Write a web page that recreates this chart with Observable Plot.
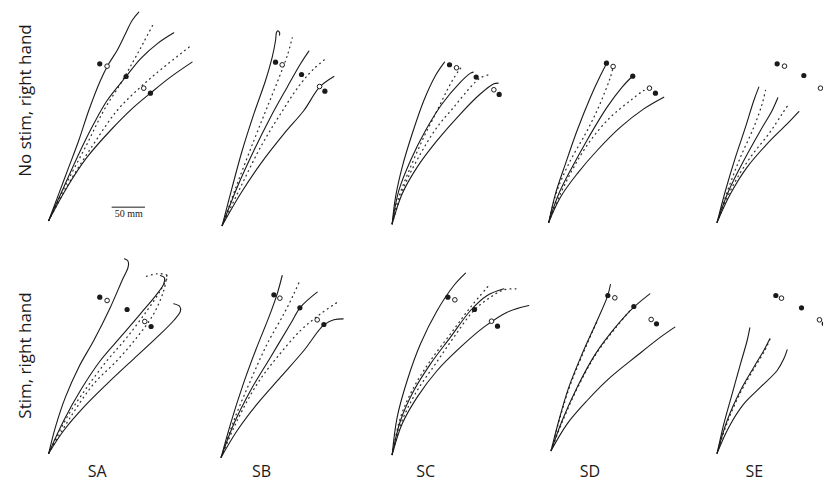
<!DOCTYPE html>
<html>
<head>
<meta charset="utf-8">
<script src="https://cdn.jsdelivr.net/npm/d3@7"></script>
<script src="https://cdn.jsdelivr.net/npm/@observablehq/plot@0.6"></script>
<style>
  html, body { margin: 0; padding: 0; background: #fff; overflow: hidden; }
</style>
</head>
<body>
<div id="chart"></div>
<script>
// ---------- categories ----------
const subjects = ["SA", "SB", "SC", "SD", "SE"];
const conditions = ["No stim, right hand", "Stim, right hand"];

// hand start position of each panel (mm, panel frame)
const startNoStim = [[50.5, 2.5], [64.3, -5], [72.9, -2.4], [61.4, 0], [67.6, 0]];
const startStim   = [[50.5, 0],   [62.8, -6], [72.9, -2],   [65.0, 4], [67.6, 0]];

// scale bar (mm)
const scaleBarLength = 50;
const scaleBarText = "50 mm";

// ---------- trajectories, mm relative to hand start ----------
// No stim, SA
const noStimSA_solid = [
  [[0,0],[15,40],[30,80],[45,120],[60,165],[77.5,210],[90,235],[102.5,255],[115,280],[125,300],[135,312.5]],
  [[0,0],[22.5,50],[47.5,105],[67.5,145],[87.5,180],[116,216],[137.5,242.5],[162.5,265],[187.5,281.5]],
  [[0,0],[27.5,50],[57.5,95],[92.5,135],[127.5,170],[152.5,191],[182.5,215],[215,237.5]]
];
const noStimSA_dotted = [
  [[0,0],[27.5,57.5],[57.5,115],[82.5,165],[107.5,205],[127.5,240],[142.5,267.5],[157.5,296]],
  [[0,0],[32.5,60],[67.5,115],[102.5,165],[137.5,200],[172.5,230],[215,263.5]]
];
const noStimSA_filled = [[76.5,235],[116,216],[152.5,191]];
const noStimSA_open = [[87.5,231.5],[142.5,198.5]];

// No stim, SB
const noStimSB_solid = [
  [[0,0],[15,57.5],[30,112.5],[47.5,167.5],[65,217.5],[75,252.5],[80,277.5],[81.5,290],[83.5,292],[86,289.5],[86,285.5]],
  [[0,0],[22.5,57.5],[47.5,112.5],[72.5,162.5],[97.5,207.5],[117.5,242.5],[130,261.5]],
  [[0,0],[27.5,47.5],[57.5,92.5],[92.5,137.5],[122.5,172.5],[146,207.5],[167.5,223.5]]
];
const noStimSB_dotted = [
  [[0,0],[22.5,62.5],[47.5,127.5],[67.5,177.5],[87.5,227.5],[98.5,257.5],[105,281.5]],
  [[0,0],[27.5,57.5],[57.5,117.5],[87.5,167.5],[117.5,212.5],[137.5,235],[155,250]]
];
const noStimSB_filled = [[80,245],[119,226.5],[154,201.5]];
const noStimSB_open = [[90,241],[146,208.5]];

// No stim, SC
const noStimSC_solid = [
  [[0,0],[5,40],[15,85],[30,135],[47.5,185],[65,222.5],[78.5,242.5]],
  [[0,0],[10,50],[27.5,95],[50,140],[75,180],[100,210],[117.5,226],[121.5,227.5]],
  [[0,0],[15,45],[37.5,85],[67.5,125],[102.5,165],[132.5,195],[152.5,210],[159,211]]
];
const noStimSC_dotted = [
  [[0,0],[10,40],[27.5,85],[47.5,130],[67.5,170],[87.5,210],[100,230],[105,236]],
  [[0,0],[17.5,55],[42.5,105],[67.5,145],[92.5,175],[117.5,205],[132.5,219],[145,223.5]]
];
const noStimSC_filled = [[86,238.5],[126,220],[160.5,194]];
const noStimSC_open = [[96.5,234],[152.5,201]];

// No stim, SD
const noStimSD_solid = [
  [[0,0],[10,42.5],[25,87.5],[42.5,137.5],[62.5,187.5],[77.5,220],[88.5,241.5]],
  [[0,0],[15,42.5],[35,82.5],[60,127.5],[87.5,172.5],[110,202.5],[125,218.5]],
  [[0,0],[17.5,37.5],[42.5,72.5],[72.5,107.5],[107.5,142.5],[142.5,170],[172.5,187.5]]
];
const noStimSD_dotted = [
  [[0,0],[12.5,47.5],[32.5,92.5],[55,132.5],[72.5,167.5],[85,197.5],[92.5,217.5],[96.5,232.5]],
  [[0,0],[17.5,42.5],[37.5,82.5],[62.5,122.5],[92.5,157.5],[122.5,182.5],[142.5,197.5],[151,201]]
];
const noStimSD_filled = [[86.5,238.5],[126,219],[160,193.5]];
const noStimSD_open = [[96.5,233.5],[151,201]];

// No stim, SE
const noStimSE_solid = [
  [[0,0],[12.5,47.5],[27.5,97.5],[42.5,142.5],[55,182.5],[62.5,202.5]],
  [[0,0],[17.5,47.5],[40,92.5],[65,137.5],[82.5,167.5],[91,186.5]],
  [[0,0],[20,42.5],[45,82.5],[75,117.5],[105,147.5],[122.5,166]]
];
const noStimSE_dotted = [
  [[0,0],[17.5,52.5],[35,97.5],[55,142.5],[67.5,177.5],[72.5,197.5]],
  [[0,0],[22.5,52.5],[50,97.5],[77.5,132.5],[97.5,162.5],[107.5,177.5]]
];
const noStimSE_filled = [[90,237.5],[130,220],[164,193.5]];
const noStimSE_open = [[101,234],[155,201]];

// Stim, SA
const stimSA_solid = [
  [[0,0],[10,39],[25,84],[45,129],[67.5,169],[92.5,219],[110,259],[119,279],[119,288],[113.5,291.5]],
  [[0,0],[22.5,49],[47.5,94],[77.5,139],[107.5,174],[137.5,209],[162.5,239],[172.5,254],[173.5,263],[167.5,266.5]],
  [[0,0],[22.5,34],[52.5,69],[87.5,104],[127.5,141.5],[162.5,174],[187.5,199],[197.5,213],[196.5,220],[187.5,224]]
];
const stimSA_dotted = [
  [[0,0],[27.5,54],[57.5,99],[87.5,139],[117.5,174],[147.5,214],[167.5,244],[177.5,266.5],[162.5,269],[142.5,264]],
  [[0,0],[32.5,54],[67.5,104],[102.5,139],[132.5,174],[157.5,209],[172.5,244],[177.5,269]]
];
const stimSA_filled = [[76.5,234],[117.5,215.5],[153.5,190]];
const stimSA_open = [[87.5,229],[144,197.5]];

// Stim, SB
const stimSB_solid = [
  [[0,0],[14,50],[31.5,105],[51.5,160],[71.5,210],[84,245],[91.5,272.5]],
  [[0,0],[19,50],[44,100],[74,150],[104,200],[119,225],[144,247.5]],
  [[0,0],[24,40],[54,80],[89,120],[124,160],[154,198.5],[169,206],[183,207.5]]
];
const stimSB_dotted = [
  [[0,0],[19,55],[44,115],[69,170],[94,215],[109,245],[118,265]],
  [[0,0],[24,55],[54,110],[84,150],[119,190],[149,215],[173,231.5]]
];
const stimSB_filled = [[79,243.5],[118,224],[154,199]];
const stimSB_open = [[88,238.5],[144,206]];

// Stim, SC
const stimSC_solid = [
  [[0,0],[7.5,56],[22.5,111],[42.5,166],[67.5,216],[92.5,253.5],[110,272]],
  [[0,0],[12.5,51],[32.5,96],[57.5,136],[87.5,176],[117.5,216],[142.5,238.5],[167.5,248.5]],
  [[0,0],[15,46],[37.5,86],[67.5,126],[102.5,161],[137.5,191],[172.5,213.5],[205,223.5]]
];
const stimSC_dotted = [
  [[0,0],[12.5,56],[32.5,101],[57.5,141],[87.5,181],[117.5,221],[145,253.5]],
  [[0,0],[15,51],[37.5,96],[65,136],[92.5,176],[122.5,216],[147.5,236],[167.5,247],[187.5,248.5]]
];
const stimSC_filled = [[83.5,236],[123.5,217.5],[158,192.5]];
const stimSC_open = [[94,232],[149,200]];

// Stim, SD
const stimSD_solid = [
  [[0,0],[11.5,45],[26.5,95],[46.5,145],[69,195],[84,230],[89,249]],
  [[0,0],[16.5,45],[39,95],[66.5,145],[96.5,185],[124,215],[148,235]],
  [[0,0],[24,40],[54,75],[89,110],[129,142.5],[164,170],[185.5,185]]
];
const stimSD_dotted = [
  [[0,0],[17.5,45],[40,95],[67.5,145],[97.5,185],[120,212]],
  [[0,0],[12,45],[27.5,95],[47.5,145],[69.5,195]]
];
const stimSD_filled = [[85,232.5],[124,216],[158,190]];
const stimSD_open = [[95.5,229],[150,196.5]];

// Stim, SE
const stimSE_solid = [
  [[0,0],[10,44],[22.5,89],[35,134],[45,169],[49,188]],
  [[0,0],[15,49],[35,94],[55,129],[70,154],[79,171.5]],
  [[0,0],[17.5,39],[40,74],[65,99],[90,124],[100,141.5],[105,155]]
];
const stimSE_dotted = [
  [[0,0],[16,48],[36,93],[56,128],[72,155],[80,173]]
];
const stimSE_filled = [[88,236.5],[126.5,218],[160.5,194]];
const stimSE_open = [[96.5,232.5],[153.5,200]];

// ---------- assemble tables ----------
const panels = [
  [conditions[0], "SA", startNoStim[0], noStimSA_solid, noStimSA_dotted, noStimSA_filled, noStimSA_open],
  [conditions[0], "SB", startNoStim[1], noStimSB_solid, noStimSB_dotted, noStimSB_filled, noStimSB_open],
  [conditions[0], "SC", startNoStim[2], noStimSC_solid, noStimSC_dotted, noStimSC_filled, noStimSC_open],
  [conditions[0], "SD", startNoStim[3], noStimSD_solid, noStimSD_dotted, noStimSD_filled, noStimSD_open],
  [conditions[0], "SE", startNoStim[4], noStimSE_solid, noStimSE_dotted, noStimSE_filled, noStimSE_open],
  [conditions[1], "SA", startStim[0], stimSA_solid, stimSA_dotted, stimSA_filled, stimSA_open],
  [conditions[1], "SB", startStim[1], stimSB_solid, stimSB_dotted, stimSB_filled, stimSB_open],
  [conditions[1], "SC", startStim[2], stimSC_solid, stimSC_dotted, stimSC_filled, stimSC_open],
  [conditions[1], "SD", startStim[3], stimSD_solid, stimSD_dotted, stimSD_filled, stimSD_open],
  [conditions[1], "SE", startStim[4], stimSE_solid, stimSE_dotted, stimSE_filled, stimSE_open]
];

const solidRows = [], dottedRows = [], filledRows = [], openRows = [];
for (const [fy, fx, s, solid, dotted, filled, open] of panels) {
  solid.forEach((c, i) => c.forEach(([x, y]) => solidRows.push({fx, fy, id: `${fy}|${fx}|s${i}`, x: s[0] + x, y: s[1] + y})));
  dotted.forEach((c, i) => c.forEach(([x, y]) => dottedRows.push({fx, fy, id: `${fy}|${fx}|d${i}`, x: s[0] + x, y: s[1] + y})));
  filled.forEach(([x, y]) => filledRows.push({fx, fy, x: s[0] + x, y: s[1] + y}));
  open.forEach(([x, y]) => openRows.push({fx, fy, x: s[0] + x, y: s[1] + y}));
}

const scaleBar = [{fx: "SA", fy: conditions[0], x1: 145.6, x2: 145.6 + scaleBarLength, y: 22.5, label: scaleBarText}];
const rowLabels = conditions.map((c) => ({fx: "SA", fy: c, label: c}));

const ink = "#1a1a1a";

const chart = Plot.plot({
  width: 823,
  height: 483,
  marginLeft: 14.6,
  marginRight: -12.85,
  marginTop: 0,
  marginBottom: 21,
  style: {fontFamily: "'Open Sans', sans-serif", background: "#fff", color: ink},
  fx: {domain: subjects, padding: 0, round: false},
  fy: {domain: conditions, padding: 0, round: false, axis: null},
  x: {domain: [0, 246.4], axis: null},
  y: {domain: [-14, 332.5], axis: null},
  marks: [
    Plot.axisFx({anchor: "bottom", tickSize: 0, tickPadding: 3, fontSize: 16, label: null, fill: ink}),
    Plot.line(dottedRows, {x: "x", y: "y", z: "id", fx: "fx", fy: "fy", stroke: "#333", strokeWidth: 1.3, strokeDasharray: "0.8,4.2", curve: "catmull-rom"}),
    Plot.line(solidRows, {x: "x", y: "y", z: "id", fx: "fx", fy: "fy", stroke: ink, strokeWidth: 1.1, curve: "catmull-rom"}),
    Plot.dot(filledRows, {x: "x", y: "y", fx: "fx", fy: "fy", r: 2.6, fill: ink, stroke: "none"}),
    Plot.dot(openRows, {x: "x", y: "y", fx: "fx", fy: "fy", r: 2.3, fill: "white", stroke: ink, strokeWidth: 1}),
    Plot.ruleY(scaleBar, {x1: "x1", x2: "x2", y: "y", fx: "fx", fy: "fy", stroke: ink, strokeWidth: 1}),
    Plot.text(scaleBar, {x: (d) => (d.x1 + d.x2) / 2, y: "y", fx: "fx", fy: "fy", text: "label", dy: 7, fontFamily: "'Liberation Serif', serif", fontSize: 10, fill: ink}),
    Plot.text(rowLabels.slice(0, 1), {fx: "fx", fy: "fy", text: "label", frameAnchor: "left", textAnchor: "middle", rotate: -90, dx: 10, dy: -15.5, fontSize: 17, fill: ink}),
    Plot.text(rowLabels.slice(1), {fx: "fx", fy: "fy", text: "label", frameAnchor: "left", textAnchor: "middle", rotate: -90, dx: 10, dy: 8.5, fontSize: 17, fill: ink})
  ]
});
document.getElementById("chart").append(chart);
</script>
</body>
</html>
